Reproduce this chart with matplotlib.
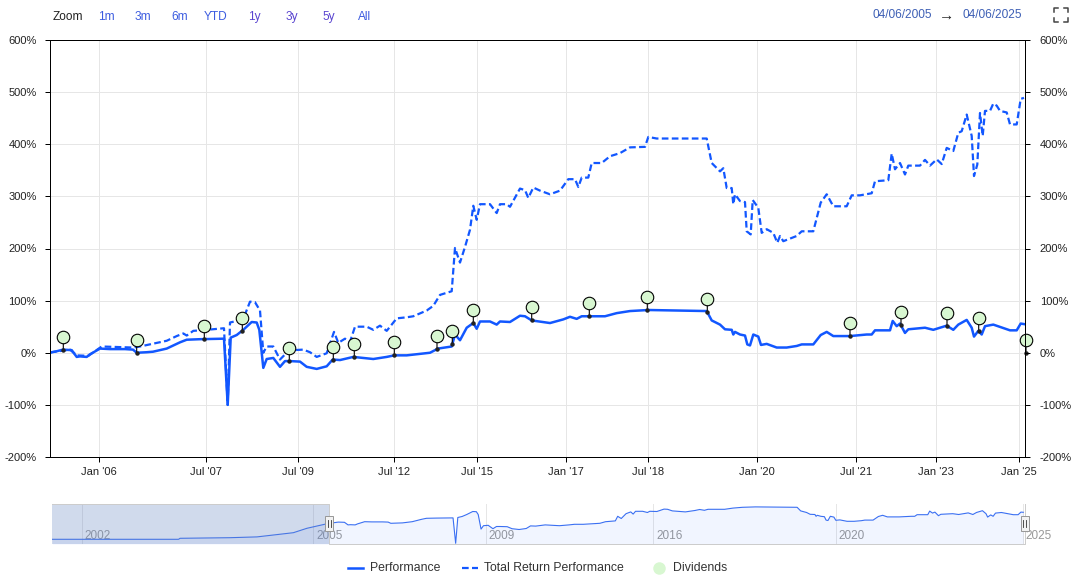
import numpy as np
import matplotlib
matplotlib.use('Agg')
import matplotlib.pyplot as plt
import matplotlib.transforms as mtransforms
from matplotlib.lines import Line2D
from matplotlib.patches import Rectangle

plt.rcParams['font.family'] = ['Liberation Sans', 'DejaVu Sans']

# ordinal positions (stock chart x axis, gaps collapsed) and values in %
perf_pos = [0, 1.7, 7, 13, 21.7, 26.7, 30, 36.7, 40, 50,
            60, 75, 83, 86.7, 96.7, 103, 116.7, 130, 136.7, 150,
            174, 177.7, 180.7, 186.7, 193.3, 201.7, 206.7, 209.3, 213.3, 216.7,
            223.3, 230, 235, 240, 250, 256.7, 266.7, 276.7, 282.7, 290,
            303.3, 323.3, 336.7, 344.3, 356.7, 380, 388, 401.7, 405, 410,
            416.7, 423.3, 426.7, 430, 440, 446.7, 450, 460, 470, 475,
            481.7, 500, 513.3, 520, 526.7, 531.7, 555, 566.7, 580, 598.3,
            656.7, 661.7, 670, 675, 681.7, 683.3, 685, 690, 695, 697.3,
            700, 703.3, 708.3, 711, 716.7, 726.7, 736.7, 746.7, 751.7, 763.3,
            770.7, 776.7, 783.3, 800, 816.7, 821.7, 825, 840, 842.7, 846.7,
            850, 855, 858.3, 875, 883.3, 896.7, 903.3, 908.3, 916.7, 921.7,
            924, 928.3, 931.7, 935, 943.3, 960, 966.7, 970.7, 974]
perf_val = [0, 1, 3, 6, 5, -8, -7, -8, -3, 8,
            7, 7, 6, 0, 1, 2, 8, 20, 25, 26,
            27, -100, 29, 34, 44, 59, 58, 44, -29, -12,
            -10, -27, -16, -16, -17, -27, -31, -26, -13, -14,
            -8, -12, -8, -5, -5, 0, 8, 12, 35, 24,
            48, 57, 46, 60, 60, 54, 60, 59, 71, 70,
            62, 57, 64, 69, 65, 70, 70, 76, 80, 82,
            80, 62, 54, 45, 44, 35, 40, 35, 33, 16,
            14, 35, 31, 15, 17, 10, 10, 13, 16, 16,
            34, 40, 32, 32, 35, 35, 43, 43, 61, 51,
            56, 38, 45, 48, 44, 52, 44, 54, 63, 48,
            31, 42, 35, 51, 54, 43, 43, 56, 55]

tr_pos = [0, 1.7, 20, 26.7, 38.3, 51.7, 83, 90, 116.7, 126.7,
          133.3, 136.7, 143.3, 156.7, 174, 177.7, 180, 186.7, 193.3, 200,
          205, 210, 213.3, 216.7, 223.3, 230, 236.7, 243.3, 253.3, 260,
          266.7, 276.7, 284, 288.3, 295, 300, 305, 316.7, 323.3, 330,
          336.7, 346.7, 356.7, 363.3, 376.7, 383.3, 390, 401.7, 405, 410,
          415, 420, 423.3, 426.7, 430, 440, 446.7, 450, 456.7, 460,
          470, 475, 478.3, 483.3, 490, 500, 510, 518.3, 525, 528.3,
          531.7, 538.3, 541.7, 551.7, 560, 570, 580, 595, 598.3, 606.7,
          656.7, 661.7, 670, 673.3, 676.7, 681.7, 683.3, 685, 690, 695,
          696.7, 700.7, 702.7, 708.3, 711.7, 716.7, 723.3, 727.3, 730, 733.3,
          746.7, 751.7, 763.3, 770.7, 776.7, 783.3, 796.7, 801.7, 810, 821.7,
          825, 838.3, 841.7, 845, 850, 855, 858.3, 870, 875, 880,
          886.7, 891.7, 896.7, 903.3, 908.3, 911.7, 916.7, 921.7, 924, 927.3,
          930, 932.7, 935, 940, 943.3, 946.7, 950, 956.7, 960, 966.7,
          970.7, 974]
tr_val = [0, 1, 6, -5, -6, 12, 10, 12, 23, 32,
          37, 33, 42, 44, 47, -100, 58, 61, 65, 98,
          97, 81, 0, 12, 12, -13, 0, 5, 6, 1,
          -8, -1, 40, 19, 27, 21, 50, 50, 44, 52,
          42, 66, 68, 70, 81, 90, 111, 118, 201, 173,
          203, 236, 282, 255, 285, 285, 268, 285, 285, 280,
          315, 312, 297, 317, 311, 304, 311, 333, 333, 318,
          336, 336, 364, 364, 377, 383, 394, 395, 414, 411,
          411, 364, 348, 354, 316, 316, 285, 304, 291, 289,
          233, 227, 293, 278, 230, 237, 230, 211, 224, 214,
          224, 233, 233, 288, 304, 281, 281, 302, 302, 306,
          329, 331, 382, 352, 364, 342, 359, 359, 370, 359,
          371, 362, 393, 387, 422, 425, 457, 416, 339, 361,
          460, 416, 464, 464, 478, 474, 464, 461, 438, 438,
          487, 489]

div_pos = [13.3, 86.7, 154.3, 192.3, 239.3, 283.3, 304.3, 344.3, 387, 402.3,
           423.3, 481.7, 539.3, 597.3, 657.3, 800, 851, 897, 928.7, 976]

tick_pos = [49.3, 155.7, 248.3, 344.3, 427.3, 515.7, 598.3, 706.7, 806, 885.7, 969.3]
tick_lbl = ["Jan '06", "Jul '07", "Jul '09", "Jul '12", "Jul '15", "Jan '17",
            "Jul '18", "Jan '20", "Jul '21", "Jan '23", "Jan '25"]
y_ticks = [-200, -100, 0, 100, 200, 300, 400, 500, 600]

# navigator: history before the selected range
nav_pre_pos = [-388, -300, -211, -209, -139, -101, -79, -50, -31, -3]
nav_pre_val = [-80, -80, -80, -75, -72, -68, -59, -47, -25, -2]
nav_tick_pos = [-347, -22, 220, 455, 711, 973]
nav_tick_lbl = ['2002', '2005', '2009', '2016', '2020', '2025']

buttons = ['1m', '3m', '6m', 'YTD', '1y', '3y', '5y', 'All']

W, H = 1077, 578
PX = 0.72
BLUE = '#1257ff'
GREEN = '#d8f7d1'


def fx(px):
    return px / W


def fy(py):
    return 1 - py / H


fig = plt.figure(figsize=(W / 100, H / 100), dpi=100)
ax = fig.add_axes([fx(50), fy(457), 975 / W, 417 / H])
ax.set_xlim(0, 975)
ax.set_ylim(-200, 600)
ax.set_axisbelow(True)
ax.grid(color='#e6e6e6', lw=PX)

ax.plot(tr_pos, tr_val, color=BLUE, lw=1.6, dashes=(3, 1.5), zorder=3)
ax.plot(perf_pos, perf_val, color=BLUE, lw=1.8, zorder=4)

# dividend flags sit 13 px above the performance line
base = np.interp(div_pos, perf_pos, perf_val, right=0.0)
lift = mtransforms.offset_copy(ax.transData, fig=fig, x=0, y=13, units='dots')
for p, b in zip(div_pos, base):
    ax.annotate('', xy=(p, b), xytext=(p, b), textcoords=lift, annotation_clip=False,
                arrowprops=dict(arrowstyle='-', color='black', lw=0.8, shrinkA=0, shrinkB=0),
                zorder=5)
ax.plot(div_pos, base, 'o', ms=2.2, color='#222', zorder=6, clip_on=False)
ax.plot(div_pos, base, 'o', transform=lift, ms=9, mfc=GREEN, mec='black', mew=0.8,
        clip_on=False, zorder=7, ls='none')

ax.set_xticks(tick_pos)
ax.set_xticklabels(tick_lbl)
ax.set_yticks(y_ticks)
ax.set_yticklabels([f'{v}%' for v in y_ticks])
ax.tick_params(axis='x', length=5 * PX, width=PX, pad=3.5, labelsize=8, labelcolor='#222222')
ax.tick_params(axis='y', length=5 * PX, width=PX, pad=5.8, labelsize=8, labelcolor='#222222')
for s in ax.spines.values():
    s.set_color('black')
    s.set_linewidth(PX)

ax2 = ax.twinx()
ax2.set_ylim(-200, 600)
ax2.set_yticks(y_ticks)
ax2.set_yticklabels([f'{v}%' for v in y_ticks])
ax2.tick_params(axis='y', length=5 * PX, width=PX, pad=7, labelsize=8, labelcolor='#222222')
for s in ax2.spines.values():
    s.set_color('black')
    s.set_linewidth(PX)

# navigator
nav = fig.add_axes([fx(52), fy(544), 973 / W, 40 / H])
nav.set_xlim(-388.6, 976.4)
nav.set_ylim(-103.5, 96.5)
nav.axis('off')
blend = mtransforms.blended_transform_factory(nav.transData, nav.transAxes)
lbl_tr = mtransforms.offset_copy(blend, fig=fig, x=3, y=0, units='dots')
for p, l in zip(nav_tick_pos, nav_tick_lbl):
    nav.plot([p, p], [0, 1], transform=blend, color='#e6e6e6', lw=PX, zorder=1)
    nav.text(p, 0.2, l, transform=lbl_tr, ha='left', va='center', fontsize=8.5,
             color='#999999', zorder=2, clip_on=False)
nx = nav_pre_pos + perf_pos
ny = nav_pre_val + perf_val
nav.fill_between(nx, ny, -103.5, color=BLUE, alpha=0.06, lw=0, zorder=2)
nav.plot(nx, ny, color='#3a6ff2', lw=0.8, zorder=3)
nav.axvspan(-388.6, 0, color=(102 / 255, 133 / 255, 194 / 255, 0.3), lw=0, zorder=4)
nav.plot([-388.6, 0, 0, 976.4, 976.4], [1, 1, 0, 0, 1], transform=blend,
         color='#cccccc', lw=PX, clip_on=False, zorder=5)
hw = 8 / 0.7128
for hx in [0, 976]:
    nav.add_patch(Rectangle((hx - hw / 2, 0.325), hw, 0.375, transform=blend,
                            facecolor='#f2f2f2', edgecolor='#999999', lw=PX,
                            clip_on=False, zorder=6))
    for dx in (-1.5, 1.5):
        nav.plot([hx + dx / 0.7128] * 2, [0.42, 0.6], transform=blend, color='#333333',
                 lw=0.6, clip_on=False, zorder=7)

# range selector
fig.text(fx(67.5), fy(17.3), 'Zoom', ha='center', va='center', fontsize=8.6, color='#222222')
btn_x = [106, 143, 180, 215.5, 254.5, 291.5, 328.5, 365]
for x, b in zip(btn_x, buttons):
    c = '#5a45d0' if b in ('1y', '3y', '5y') else '#3c5ce0'
    fig.text(fx(x), fy(17.3), b, ha='center', va='center', fontsize=8.6, color=c)
fig.text(fx(872.7), fy(15.5), '04/06/2005', ha='left', va='center', fontsize=8.6, color='#3d5fb5')
fig.text(fx(947), fy(16), '\u2192', ha='center', va='center', fontsize=11, color='#222222',
         fontweight='bold')
fig.text(fx(962.7), fy(15.5), '04/06/2025', ha='left', va='center', fontsize=8.6, color='#3d5fb5')

# fullscreen icon
x0, x1, y0, y1, a = 1054, 1068, 8, 22, 4
for cx, cy, sx, sy in [(x0, y0, 1, 1), (x1, y0, -1, 1), (x0, y1, 1, -1), (x1, y1, -1, -1)]:
    fig.add_artist(Line2D([fx(cx + sx * a), fx(cx), fx(cx)], [fy(cy), fy(cy), fy(cy + sy * a)],
                          color='#444444', lw=1.1))

# legend
ly = fy(567.7)
fig.add_artist(Line2D([fx(348), fx(363)], [ly, ly], color=BLUE, lw=1.8))
fig.text(fx(370), ly, 'Performance', ha='left', va='center', fontsize=8.8, color='#333333')
fig.add_artist(Line2D([fx(462), fx(478)], [ly, ly], color=BLUE, lw=1.6, dashes=(3, 1.5)))
fig.text(fx(484), ly, 'Total Return Performance', ha='left', va='center', fontsize=8.8, color='#333333')
fig.add_artist(Line2D([fx(658.5)], [ly], marker='o', ms=9, mfc=GREEN, mec='none', ls='none'))
fig.text(fx(673), ly, 'Dividends', ha='left', va='center', fontsize=8.8, color='#333333')

fig.savefig('out.png', dpi=100, facecolor='white')
